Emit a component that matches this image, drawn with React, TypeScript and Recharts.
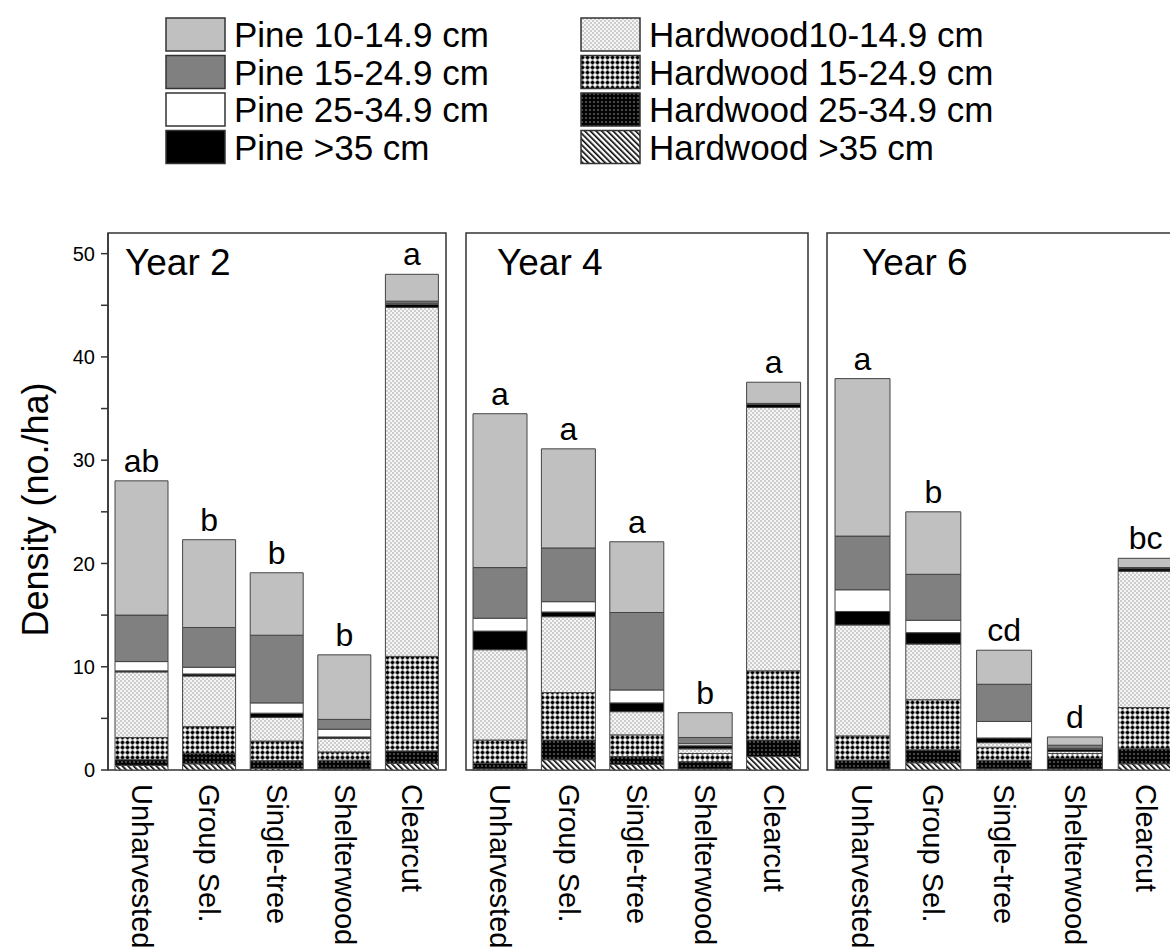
import React from "react";
import { BarChart, Bar, XAxis, YAxis, ReferenceArea, LabelList } from "recharts";

const FONT = '"Liberation Sans", Arial, Helvetica, sans-serif';

const categories = ["Unharvested", "Group Sel.", "Single-tree", "Shelterwood", "Clearcut"];
const years = ["Year 2", "Year 4", "Year 6"];

// one row per year, values in category order (no./ha)
const hw35 = [
  [0.45, 0.6, 0.15, 0.1, 0.65],
  [0.1, 1.0, 0.55, 0.1, 1.3],
  [0.1, 0.7, 0.1, 0.1, 0.6],
];
const hw25 = [
  [0.55, 1.0, 0.75, 0.85, 1.2],
  [0.55, 1.9, 0.75, 0.7, 1.6],
  [0.85, 1.25, 0.85, 1.0, 1.45],
];
const hw15 = [
  [2.15, 2.6, 1.9, 0.8, 9.15],
  [2.25, 4.6, 2.1, 0.8, 6.7],
  [2.35, 4.85, 1.25, 0.5, 4.0],
];
const hw10 = [
  [6.35, 4.9, 2.3, 1.3, 33.8],
  [8.75, 7.35, 2.25, 0.45, 25.5],
  [10.75, 5.4, 0.45, 0.2, 13.2],
];
const p35 = [
  [0.1, 0.2, 0.4, 0.15, 0.3],
  [1.8, 0.45, 0.85, 0.3, 0.3],
  [1.3, 1.1, 0.45, 0.2, 0.25],
];
const p25 = [
  [0.9, 0.65, 1.0, 0.75, 0.1],
  [1.25, 1.0, 1.25, 0.2, 0.05],
  [2.1, 1.2, 1.6, 0.1, 0.05],
];
const p15 = [
  [4.5, 3.85, 6.55, 0.95, 0.2],
  [4.9, 5.2, 7.5, 0.6, 0.05],
  [5.2, 4.45, 3.6, 0.3, 0.05],
];
const p10 = [
  [13.0, 8.5, 6.05, 6.25, 2.6],
  [14.9, 9.6, 6.85, 2.4, 2.05],
  [15.25, 6.05, 3.3, 0.8, 0.9],
];
const sigLetters = [
  ["ab", "b", "b", "b", "a"],
  ["a", "a", "a", "b", "a"],
  ["a", "b", "cd", "d", "bc"],
];

const yTicks = [0, 5, 10, 15, 20, 25, 30, 35, 40, 45, 50];

// bottom-up stacking order
const series = [
  { key: "hw35", name: "Hardwood >35 cm", fill: "url(#patHw35)", values: hw35 },
  { key: "hw25", name: "Hardwood 25-34.9 cm", fill: "url(#patHw25)", values: hw25 },
  { key: "hw15", name: "Hardwood 15-24.9 cm", fill: "url(#patHw15)", values: hw15 },
  { key: "hw10", name: "Hardwood10-14.9 cm", fill: "url(#patHw10)", values: hw10 },
  { key: "p35", name: "Pine >35 cm", fill: "#000000", values: p35 },
  { key: "p25", name: "Pine 25-34.9 cm", fill: "#ffffff", values: p25 },
  { key: "p15", name: "Pine 15-24.9 cm", fill: "#808080", values: p15 },
  { key: "p10", name: "Pine 10-14.9 cm", fill: "#c0c0c0", values: p10 },
];

const legendLeft = ["p10", "p15", "p25", "p35"];
const legendRight = ["hw10", "hw15", "hw25", "hw35"];

function Patterns() {
  return (
    <svg width={0} height={0} style={{ position: "absolute" }}>
      <defs>
        <pattern id="patHw10" width={4} height={4} patternUnits="userSpaceOnUse">
          <rect width={4} height={4} fill="#f6f6f6" />
          <circle cx={1} cy={1} r={0.75} fill="#909090" />
          <circle cx={3} cy={3} r={0.75} fill="#909090" />
        </pattern>
        <pattern id="patHw15" width={5} height={5} patternUnits="userSpaceOnUse">
          <rect width={5} height={5} fill="#ffffff" />
          <rect x={1.5} y={0.5} width={2} height={4} fill="#000" />
          <rect x={0.5} y={1.5} width={4} height={2} fill="#000" />
        </pattern>
        <pattern id="patHw25" width={4} height={4} patternUnits="userSpaceOnUse">
          <rect width={4} height={4} fill="#050505" />
          <circle cx={2} cy={2} r={0.7} fill="#bbbbbb" />
        </pattern>
        <pattern id="patHw35" width={4} height={4} patternUnits="userSpaceOnUse" patternTransform="rotate(-45)">
          <rect width={4} height={4} fill="#ffffff" />
          <rect x={0} y={0} width={1.6} height={4} fill="#000" />
        </pattern>
      </defs>
    </svg>
  );
}

function Legend() {
  const row = (key: string, i: number, x: number) => {
    const s = series.find((d) => d.key === key)!;
    const top = 18 + i * 37.5;
    return (
      <g key={key}>
        <rect x={x} y={top} width={59} height={33} fill={s.fill} stroke="#333" strokeWidth={1.5} />
        <text x={x + 68} y={top + 29} fontSize={35} fontFamily={FONT} fill="#000">
          {s.name}
        </text>
      </g>
    );
  };
  return (
    <svg width={1170} height={200} style={{ position: "absolute", left: 0, top: 0 }}>
      {legendLeft.map((k, i) => row(k, i, 166))}
      {legendRight.map((k, i) => row(k, i, 581))}
    </svg>
  );
}

const renderTick = (props: any) => {
  const { x, y, payload } = props;
  return (
    <text
      transform={`translate(${x},${y + 14}) rotate(90)`}
      textAnchor="start"
      dominantBaseline="central"
      fontSize={29}
      fontFamily={FONT}
      fill="#000"
    >
      {payload.value}
    </text>
  );
};

const yearLabel = (title: string, dx: number) => (props: any) => {
  const vb = props.viewBox || {};
  return (
    <text x={vb.x + dx} y={vb.y + 42} fontSize={37} fontFamily={FONT} fill="#000">
      {title}
    </text>
  );
};

const yAxisLabel = (props: any) => {
  const vb = props.viewBox || {};
  const cx = 35;
  const cy = vb.y + vb.height / 2 + 8;
  return (
    <text
      x={cx}
      y={cy}
      transform={`rotate(-90, ${cx}, ${cy})`}
      textAnchor="middle"
      dominantBaseline="central"
      fontSize={36}
      fontFamily={FONT}
      fill="#000"
    >
      Density (no./ha)
    </text>
  );
};

type PanelProps = {
  idx: number;
  left: number;
  width: number;
  mLeft: number;
  mRight: number;
  barSize: number;
  yearDx: number;
  showY: boolean;
};

function Panel({ idx, left, width, mLeft, mRight, barSize, yearDx, showY }: PanelProps) {
  const data = categories.map((cat, i) => {
    const row: any = { cat, sig: sigLetters[idx][i] };
    series.forEach((s) => {
      row[s.key] = s.values[idx][i];
    });
    return row;
  });
  return (
    <div style={{ position: "absolute", left, top: 0 }}>
      <BarChart
        width={width}
        height={947}
        data={data}
        margin={{ top: 233, right: mRight, bottom: 0, left: mLeft }}
        barSize={barSize}
      >
        <XAxis
          dataKey="cat"
          height={177}
          interval={0}
          tickLine={false}
          axisLine={false}
          tickSize={0}
          tickMargin={0}
          tick={renderTick}
        />
        <YAxis
          domain={[0, 52]}
          ticks={yTicks}
          hide={!showY}
          width={108}
          interval={0}
          tickSize={7}
          tickMargin={6}
          tickFormatter={(v: number) => (v % 10 === 0 ? String(v) : "")}
          tick={{ fontSize: 20, fill: "#000", fontFamily: FONT }}
          axisLine={{ stroke: "#333", strokeWidth: 1.5 }}
          tickLine={{ stroke: "#333", strokeWidth: 1.5 }}
          label={showY ? yAxisLabel : undefined}
        />
        {series.map((s) => (
          <Bar
            key={s.key}
            dataKey={s.key}
            stackId="a"
            fill={s.fill}
            stroke="#444"
            strokeWidth={1}
            isAnimationActive={false}
          >
            {s.key === "p10" && (
              <LabelList
                dataKey="sig"
                position="top"
                offset={9}
                fontSize={32}
                fontFamily={FONT}
                fill="#000"
              />
            )}
          </Bar>
        ))}
        <ReferenceArea
          y1={0}
          y2={52}
          fill="none"
          stroke="#333"
          strokeWidth={1.5}
          fillOpacity={0}
          ifOverflow="visible"
          label={yearLabel(years[idx], yearDx)}
        />
      </BarChart>
    </div>
  );
}

export default function App() {
  return (
    <div
      style={{
        position: "absolute",
        left: 0,
        top: 0,
        width: 1170,
        height: 947,
        overflow: "hidden",
        background: "#fff",
      }}
    >
      <Patterns />
      <Legend />
      <Panel idx={0} left={0} width={460} mLeft={0} mRight={14} barSize={53} yearDx={17} showY />
      <Panel idx={1} left={460} width={360} mLeft={6} mRight={12} barSize={54} yearDx={31} showY={false} />
      <Panel idx={2} left={820} width={370} mLeft={7} mRight={9} barSize={55} yearDx={35} showY={false} />
    </div>
  );
}
